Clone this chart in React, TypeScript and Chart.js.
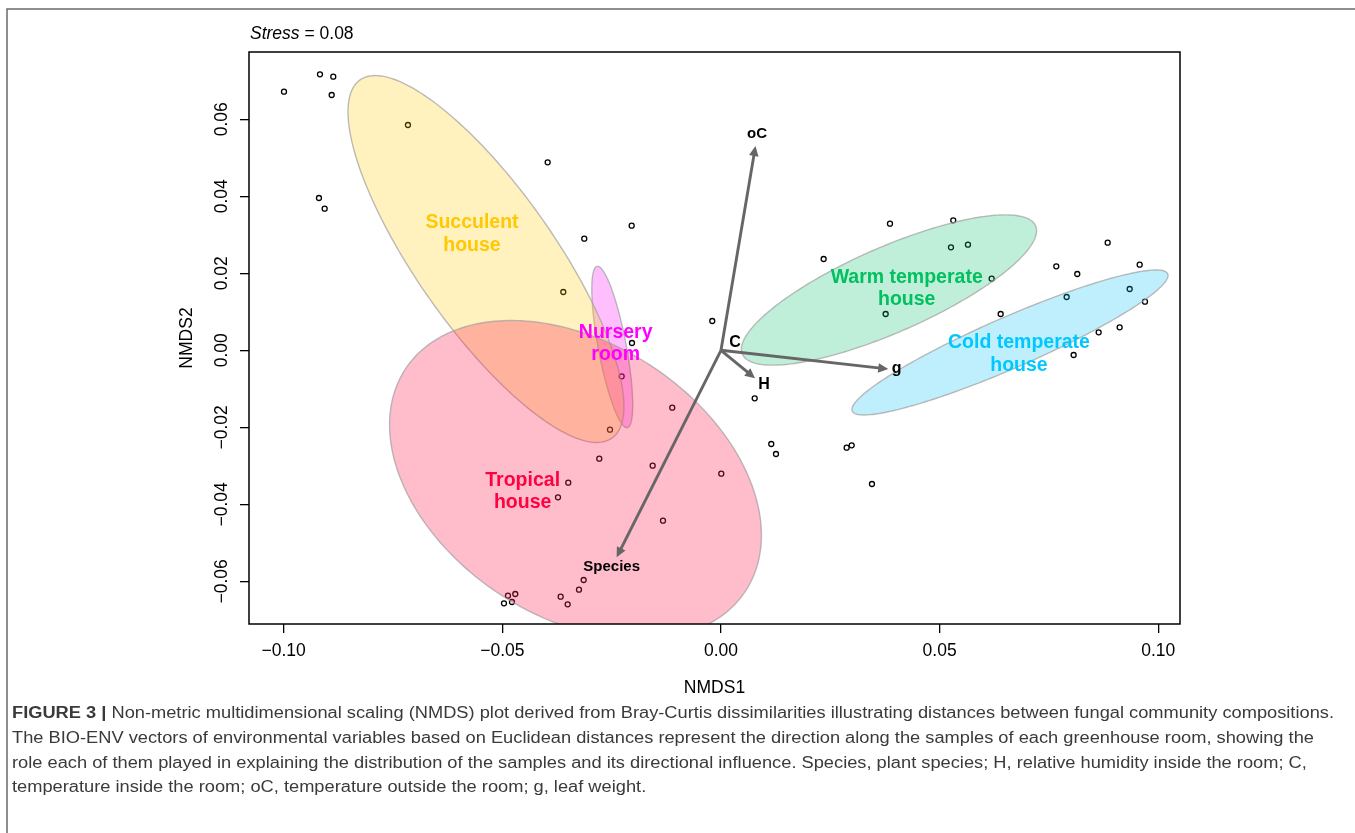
import React, { useEffect, useRef } from "react";
import { Chart, registerables } from "chart.js";

Chart.register(...registerables);

// ---------------- data ----------------
const nmds1 = [
  -0.09993, -0.0917, -0.08866, -0.08902, -0.07158, -0.03963, -0.09193, -0.09063, -0.03126, -0.02042,
  -0.03606, -0.02035, -0.02271, -0.02538, -0.01114, -0.02783, -0.01562, 0.00007, -0.03492, -0.03727,
  -0.01326, -0.0314, -0.03247, -0.03666, -0.03506, -0.04704, -0.04871, -0.04962, -0.04779, -0.00199,
  0.00771, 0.0115, 0.01258, 0.02874, 0.02989, 0.03453, 0.03865, 0.05312, 0.0526, 0.05648,
  0.02348, 0.0619, 0.03766, 0.08843, 0.07668, 0.08148, 0.09575, 0.07905, 0.09346, 0.09696,
  0.06396, 0.09117, 0.08637, 0.08065,
];
const nmds2 = [
  0.06717, 0.07169, 0.07106, 0.06631, 0.05852, 0.04883, 0.03956, 0.03678, 0.02899, 0.03236,
  0.01514, 0.0019, -0.00675, -0.02062, -0.01491, -0.02816, -0.02997, -0.03205, -0.03439, -0.03818,
  -0.04426, -0.05966, -0.06218, -0.064, -0.06597, -0.0633, -0.06374, -0.06571, -0.06538, 0.00761,
  -0.01247, -0.02434, -0.02694, -0.0253, -0.02468, -0.03473, 0.03288, 0.03377, 0.02675, 0.02743,
  0.02371, 0.0186, 0.00943, 0.02795, 0.02182, 0.01982, 0.02223, 0.01384, 0.01592, 0.01262,
  0.00943, 0.00597, 0.00468, -0.00122,
];

// group ellipses (data space): centre and two conjugate semi-axis vectors
const groupLabelLines = [
  ["Cold temperate", "house"],
  ["Nursery", "room"],
  ["Succulent", "house"],
  ["Tropical", "house"],
  ["Warm temperate", "house"],
];
const ellipseCenterX = [0.06609, -0.02486, -0.05374, -0.03327, 0.03842];
const ellipseCenterY = [0.00203, 0.000857, 0.02371, -0.03369, 0.01566];
const ellipseAxis1X = [0.03606, 0.003453, 0.02879, 0.03894, 0.03352];
const ellipseAxis1Y = [0.01782, -0.02094, -0.04652, -0.02873, 0.01668];
const ellipseAxis2X = [0.002326, -0.003147, -0.0129, -0.01706, 0.00391];
const ellipseAxis2Y = [-0.006073, -0.00067, -0.01031, -0.02984, -0.01013];
const groupLabelX = [0.06815, -0.02408, -0.05694, -0.04535, 0.04247];
const groupLabelY = [-0.00094, 0.00171, 0.03021, -0.03673, 0.016];
const ellipseFill = [
  "rgba(0,190,245,0.25)",
  "rgba(255,0,255,0.25)",
  "rgba(255,204,0,0.25)",
  "rgba(255,32,82,0.3)",
  "rgba(0,191,99,0.25)",
];
const groupTextColor = ["#00C8FF", "#FF00FF", "#FFC800", "#FF0040", "#00C060"];

// BIO-ENV vectors
const vectorNames = ["Species", "H", "C", "oC", "g"];
const vectorX = [-0.02385, 0.00778, 0.0004, 0.00789, 0.03826];
const vectorY = [-0.05377, -0.00727, -0.0001, 0.05306, -0.00486];
const vectorLabelX = [-0.02499, 0.00983, 0.0032, 0.00823, 0.04018];
const vectorLabelY = [-0.05621, -0.00901, 0.00208, 0.05618, -0.00467];

const xTickStep = 0.05;
const yTickStep = 0.02;
const X_MIN = -0.10793;
const X_MAX = 0.10497;
const Y_MIN = -0.07109;
const Y_MAX = 0.07748;

const stressValue = "0.08";
const captionBold = "FIGURE 3 | ";
const captionLines = [
  "Non-metric multidimensional scaling (NMDS) plot derived from Bray-Curtis dissimilarities illustrating distances between fungal community compositions.",
  "The BIO-ENV vectors of environmental variables based on Euclidean distances represent the direction along the samples of each greenhouse room, showing the",
  "role each of them played in explaining the distribution of the samples and its directional influence. Species, plant species; H, relative humidity inside the room; C,",
  "temperature inside the room; oC, temperature outside the room; g, leaf weight.",
];

const FONT = '"Liberation Sans", Arial, Helvetica, sans-serif';

function fmt(v: number) {
  const s = Math.abs(v).toFixed(2);
  return v < -1e-9 ? "\u2212" + s : s;
}

function drawArrow(ctx: CanvasRenderingContext2D, x0: number, y0: number, x1: number, y1: number) {
  const dx = x1 - x0;
  const dy = y1 - y0;
  const len = Math.hypot(dx, dy);
  if (len < 3) return;
  const ux = dx / len;
  const uy = dy / len;
  const headLen = Math.min(10, len * 0.5);
  const headW = 4.8;
  const bx = x1 - ux * headLen;
  const by = y1 - uy * headLen;
  ctx.beginPath();
  ctx.moveTo(x0, y0);
  ctx.lineTo(bx + ux * 2, by + uy * 2);
  ctx.stroke();
  ctx.beginPath();
  ctx.moveTo(x1, y1);
  ctx.lineTo(bx - uy * headW, by + ux * headW);
  ctx.lineTo(bx + uy * headW, by - ux * headW);
  ctx.closePath();
  ctx.fill();
}

const overlayPlugin = {
  id: "nmdsOverlay",
  afterDatasetsDraw(chart: any) {
    const { ctx, chartArea: ca, scales } = chart;
    const xs = scales.x;
    const ys = scales.y;

    // ellipses
    ctx.save();
    ctx.beginPath();
    ctx.rect(ca.left, ca.top, ca.right - ca.left, ca.bottom - ca.top);
    ctx.clip();
    for (let g = 0; g < groupLabelLines.length; g++) {
      ctx.beginPath();
      const N = 240;
      for (let k = 0; k <= N; k++) {
        const t = (2 * Math.PI * k) / N;
        const vx = ellipseCenterX[g] + Math.cos(t) * ellipseAxis1X[g] + Math.sin(t) * ellipseAxis2X[g];
        const vy = ellipseCenterY[g] + Math.cos(t) * ellipseAxis1Y[g] + Math.sin(t) * ellipseAxis2Y[g];
        const px = xs.getPixelForValue(vx);
        const py = ys.getPixelForValue(vy);
        if (k === 0) ctx.moveTo(px, py);
        else ctx.lineTo(px, py);
      }
      ctx.closePath();
      ctx.fillStyle = ellipseFill[g];
      ctx.fill();
      ctx.strokeStyle = "rgba(160,160,160,0.7)";
      ctx.lineWidth = 1.4;
      ctx.stroke();
    }
    ctx.restore();

    // vectors
    ctx.save();
    const ox = xs.getPixelForValue(0);
    const oy = ys.getPixelForValue(0);
    ctx.strokeStyle = "#666666";
    ctx.fillStyle = "#666666";
    ctx.lineWidth = 2.9;
    ctx.lineCap = "butt";
    for (let i = 0; i < vectorNames.length; i++) {
      drawArrow(ctx, ox, oy, xs.getPixelForValue(vectorX[i]), ys.getPixelForValue(vectorY[i]));
    }
    ctx.fillStyle = "#000";
    ctx.textAlign = "center";
    ctx.textBaseline = "middle";
    for (let i = 0; i < vectorNames.length; i++) {
      const big = vectorNames[i].length === 1;
      ctx.font = (big ? "bold 16px " : "bold 15px ") + FONT;
      ctx.fillText(vectorNames[i], xs.getPixelForValue(vectorLabelX[i]), ys.getPixelForValue(vectorLabelY[i]));
    }
    ctx.restore();

    // group labels
    ctx.save();
    ctx.font = "bold 19.5px " + FONT;
    ctx.textAlign = "center";
    ctx.textBaseline = "middle";
    for (let g = 0; g < groupLabelLines.length; g++) {
      const cx = xs.getPixelForValue(groupLabelX[g]);
      const cy = ys.getPixelForValue(groupLabelY[g]);
      ctx.fillStyle = groupTextColor[g];
      const lines = groupLabelLines[g];
      const lh = 22.5;
      lines.forEach((ln, j) => {
        ctx.fillText(ln, cx, cy + (j - (lines.length - 1) / 2) * lh);
      });
    }
    ctx.restore();

    // box
    ctx.save();
    ctx.strokeStyle = "#000";
    ctx.lineWidth = 1.5;
    ctx.strokeRect(ca.left, ca.top, ca.right - ca.left, ca.bottom - ca.top);
    ctx.restore();
  },
  afterDraw(chart: any) {
    const { ctx, chartArea: ca, scales } = chart;
    const xs = scales.x;
    const ys = scales.y;
    ctx.save();
    ctx.fillStyle = "#000";
    ctx.font = "17.5px " + FONT;
    ctx.textAlign = "center";
    ctx.textBaseline = "middle";
    // x tick labels
    xs.ticks.forEach((t: any) => {
      ctx.fillText(fmt(t.value), xs.getPixelForValue(t.value), ca.bottom + 27);
    });
    // y tick labels (rotated)
    ys.ticks.forEach((t: any) => {
      ctx.save();
      ctx.translate(ca.left - 27, ys.getPixelForValue(t.value));
      ctx.rotate(-Math.PI / 2);
      ctx.fillText(fmt(t.value), 0, 0);
      ctx.restore();
    });
    // axis titles
    ctx.fillText("NMDS1", (ca.left + ca.right) / 2, ca.bottom + 64);
    ctx.save();
    ctx.translate(ca.left - 62, (ca.top + ca.bottom) / 2);
    ctx.rotate(-Math.PI / 2);
    ctx.fillText("NMDS2", 0, 0);
    ctx.restore();
    // stress
    ctx.textAlign = "left";
    ctx.font = "italic 17.5px " + FONT;
    const sx = ca.left + 1;
    const sy = ca.top - 18;
    ctx.fillText("Stress", sx, sy);
    const w = ctx.measureText("Stress").width;
    ctx.font = "17.5px " + FONT;
    ctx.fillText(" = " + stressValue, sx + w, sy);
    ctx.restore();

    // frame
    ctx.save();
    ctx.strokeStyle = "#6a6a6a";
    ctx.lineWidth = 1.5;
    ctx.beginPath();
    ctx.moveTo(7, chart.height + 2);
    ctx.lineTo(7, 9);
    ctx.lineTo(chart.width + 2, 9);
    ctx.stroke();
    ctx.restore();

    // caption
    ctx.save();
    ctx.fillStyle = "#3a3a3a";
    ctx.textBaseline = "middle";
    ctx.textAlign = "left";
    const reg = "16px " + FONT;
    const bld = "bold 16px " + FONT;
    ctx.font = bld;
    const wb = ctx.measureText(captionBold).width;
    ctx.font = reg;
    const w1 = ctx.measureText(captionLines[0]).width;
    const scale = 1322 / (wb + w1);
    const lineY = [714, 739, 764, 788];
    captionLines.forEach((ln, i) => {
      ctx.save();
      ctx.translate(12, lineY[i]);
      ctx.scale(scale, 1);
      let x = 0;
      if (i === 0) {
        ctx.font = bld;
        ctx.fillText(captionBold, 0, 0);
        x = wb;
      }
      ctx.font = reg;
      ctx.fillText(ln, x, 0);
      ctx.restore();
    });
    ctx.restore();
  },
};

export default function App() {
  const ref = useRef<HTMLCanvasElement>(null);
  useEffect(() => {
    const canvas = ref.current;
    if (!canvas) return;
    const points = nmds1.map((v, i) => ({ x: v, y: nmds2[i] }));
    const chart = new Chart(canvas, {
      type: "scatter",
      data: {
        datasets: [
          {
            label: "samples",
            data: points,
            pointStyle: "circle",
            pointRadius: 2.5,
            pointBorderWidth: 1.3,
            borderColor: "#000",
            backgroundColor: "rgba(0,0,0,0)",
          },
        ],
      },
      options: {
        responsive: false,
        animation: false,
        devicePixelRatio: 1,
        layout: { padding: { left: 189, right: 175, top: 52, bottom: 149 } },
        plugins: { legend: { display: false }, tooltip: { enabled: false }, title: { display: false } },
        events: [],
        scales: {
          x: {
            type: "linear",
            min: X_MIN,
            max: X_MAX,
            ticks: { stepSize: xTickStep, includeBounds: false, display: false },
            grid: { display: true, drawOnChartArea: false, drawTicks: true, tickLength: 9, color: "#000", lineWidth: 1.3 },
            border: { display: false },
            afterFit: (s: any) => {
              s.height = 60;
              s.paddingLeft = 0;
              s.paddingRight = 0;
            },
          },
          y: {
            type: "linear",
            min: Y_MIN,
            max: Y_MAX,
            ticks: { stepSize: yTickStep, includeBounds: false, display: false },
            grid: { display: true, drawOnChartArea: false, drawTicks: true, tickLength: 9, color: "#000", lineWidth: 1.3 },
            border: { display: false },
            afterFit: (s: any) => {
              s.width = 60;
              s.paddingTop = 0;
              s.paddingBottom = 0;
            },
          },
        },
      },
      plugins: [overlayPlugin],
    } as any);
    return () => chart.destroy();
  }, []);
  return (
    <div style={{ position: "absolute", left: 0, top: 0, width: 1355, height: 833, background: "#fff", overflow: "hidden" }}>
      <canvas ref={ref} width={1355} height={833} style={{ position: "absolute", left: 0, top: 0, width: 1355, height: 833 }} />
    </div>
  );
}
